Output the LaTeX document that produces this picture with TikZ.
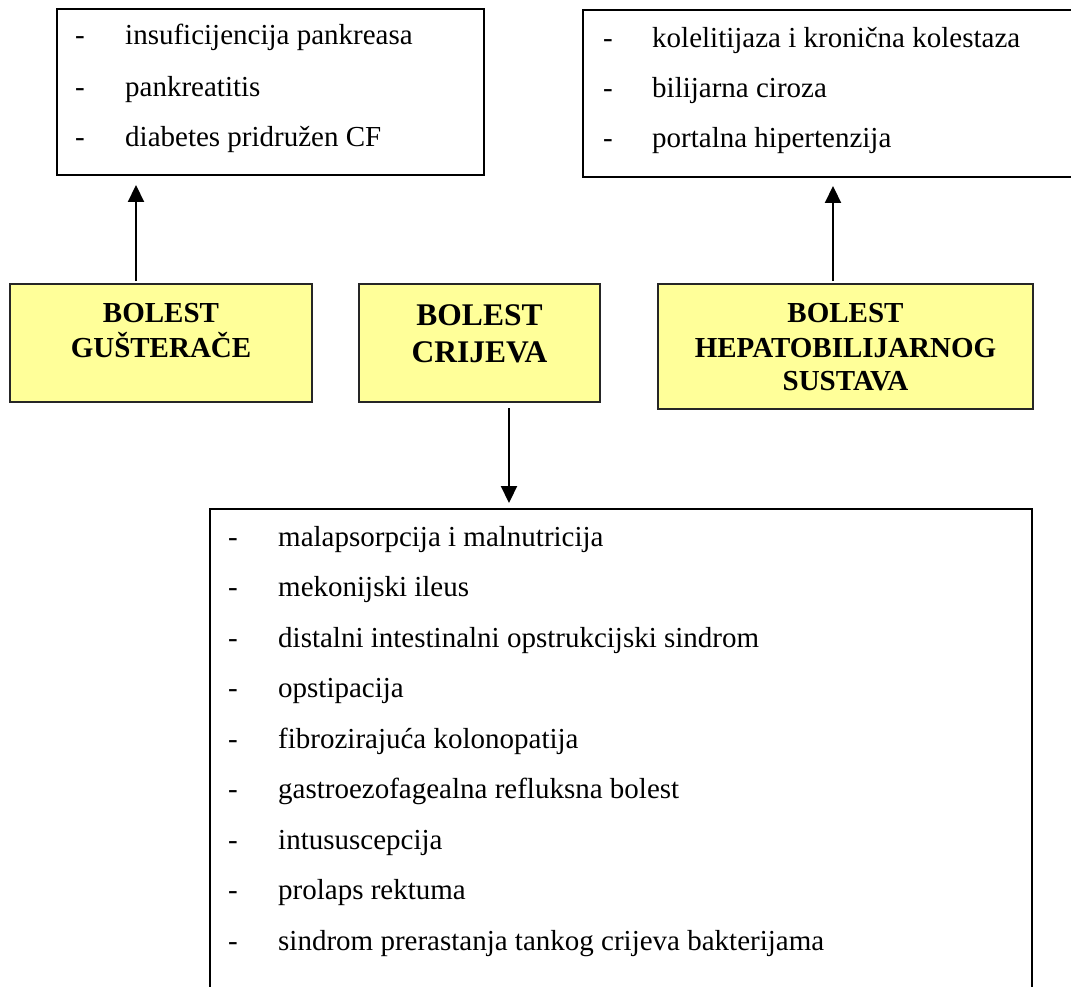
\documentclass[tikz,border=0pt]{standalone}
\usepackage{fontspec}
\setmainfont{Liberation Serif}
\usetikzlibrary{arrows.meta}
\definecolor{boxyellow}{HTML}{FFFF99}
\tikzset{
  x=1pt, y=-1pt,
  box/.style={draw=black, line width=1.6pt, inner sep=0pt, outer sep=0pt, anchor=north west},
  ybox/.style={box, fill=boxyellow, draw=black!85},
  item/.style={anchor=base west, inner sep=0pt, font=\fontsize{29}{35}\selectfont},
  dashitem/.style={anchor=base, inner sep=0pt, font=\fontsize{29}{35}\selectfont},
  title/.style={anchor=base, inner sep=0pt, font=\fontsize{29}{35}\selectfont\bfseries},
  btitle/.style={anchor=base, inner sep=0pt, font=\fontsize{31.5}{37}\selectfont\bfseries},
  arr/.style={line width=2.2pt, -{Triangle[width=16pt,length=17pt]}}
}
\begin{document}
\begin{tikzpicture}
\useasboundingbox (0,0) rectangle (1071,987);
% boxes
\node[box, minimum width=427pt, minimum height=166pt] (A) at (57,9) {};
\node[box, minimum width=500pt, minimum height=167pt] (B) at (583,10) {};
\node[ybox, minimum width=302pt, minimum height=118pt] (G) at (10,284) {};
\node[ybox, minimum width=241pt, minimum height=118pt] (C) at (359,284) {};
\node[ybox, minimum width=375pt, minimum height=125pt] (H) at (658,284) {};
\node[box, minimum width=822pt, minimum height=500pt] (D) at (210,509) {};
% box A items
\node[dashitem] (a1d) at (80,45) {-};
\node[item] (a1) at (125,45) {insuficijencija pankreasa};
\node[dashitem] (a2d) at (80,97) {-};
\node[item] (a2) at (125,97) {pankreatitis};
\node[dashitem] (a3d) at (80,147) {-};
\node[item] (a3) at (125,147) {diabetes pridružen CF};
% box B items
\node[dashitem] (b1d) at (608,48) {-};
\node[item] (b1) at (652,48) {kolelitijaza i kronična kolestaza};
\node[dashitem] (b2d) at (608,98) {-};
\node[item] (b2) at (652,98) {bilijarna ciroza};
\node[dashitem] (b3d) at (608,148) {-};
\node[item] (b3) at (652,148) {portalna hipertenzija};
% titles
\node[title] (g1) at (161,322) {BOLEST};
\node[title] (g2) at (161,357) {GUŠTERAČE};
\node[btitle] (c1) at (479.5,325) {BOLEST};
\node[btitle] (c2) at (479.5,362) {CRIJEVA};
\node[title] (h1) at (845.5,322) {BOLEST};
\node[title] (h2) at (845.5,357) {HEPATOBILIJARNOG};
\node[title] (h3) at (845.5,390) {SUSTAVA};
% box D items
\foreach \t [count=\i from 0] in {malapsorpcija i malnutricija, mekonijski ileus, distalni intestinalni opstrukcijski sindrom, opstipacija, fibrozirajuća kolonopatija, gastroezofagealna refluksna bolest, intususcepcija, prolaps rektuma, sindrom prerastanja tankog crijeva bakterijama}{
  \node[dashitem] (d\i d) at (233,546+50.5*\i) {-};
  \node[item] (d\i) at (278,546+50.5*\i) {\t};
}
% connectors
\coordinate (ga) at (136,0);
\coordinate (ha) at (833,0);
\coordinate (ca) at (509,0);
\draw[arr, shorten <=3pt, shorten >=10pt] (G.north -| ga) -- (A.south -| ga);
\draw[arr, shorten <=3pt, shorten >=9pt] (H.north -| ha) -- (B.south -| ha);
\draw[arr, shorten <=6pt, shorten >=6pt] (C.south -| ca) -- (D.north -| ca);
\end{tikzpicture}
\end{document}
